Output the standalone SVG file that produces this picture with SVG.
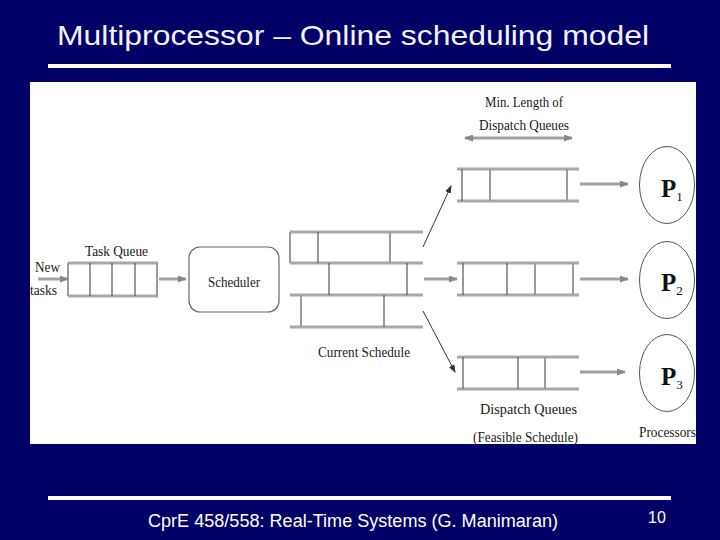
<svg xmlns="http://www.w3.org/2000/svg" width="720" height="540" viewBox="0 0 720 540">
<defs>
<style>
.lbl{font-family:"Liberation Serif","Times New Roman",serif;font-size:15px;fill:#1a1a1a}
.pl{font-family:"Liberation Serif","Times New Roman",serif;font-weight:bold;font-size:25px;fill:#111}
.ps{font-weight:normal;font-size:13px}
.hl{stroke:#a8a8a8;stroke-width:3;fill:none}
.vg{stroke:#9a9a9a;stroke-width:2;fill:none}
.vd{stroke:#555;stroke-width:1.2;fill:none}
.ga{stroke:#a0a0a0;stroke-width:3;fill:none;marker-end:url(#gh)}
.da{stroke:#333;stroke-width:1;fill:none;marker-end:url(#dh)}
.proc{fill:#fff;stroke:#555;stroke-width:1}
</style>
<marker id="gh" markerUnits="userSpaceOnUse" markerWidth="9" markerHeight="7" refX="8" refY="3.5" orient="auto"><path d="M0,0 L9,3.5 L0,7 z" fill="#888"/></marker>
<marker id="gt" markerUnits="userSpaceOnUse" markerWidth="9" markerHeight="7" refX="1" refY="3.5" orient="auto"><path d="M9,0 L0,3.5 L9,7 z" fill="#888"/></marker>
<marker id="dh" markerUnits="userSpaceOnUse" markerWidth="8" markerHeight="6" refX="7" refY="3" orient="auto"><path d="M0,0 L8,3 L0,6 z" fill="#333"/></marker>
<clipPath id="panel"><rect x="30" y="82" width="666" height="362"/></clipPath>
</defs>
<rect width="720" height="540" fill="#020066"/>
<g id="title">
<text x="57" y="45" font-family="Liberation Sans, Arial, sans-serif" font-size="28" fill="#f2f2fa" textLength="592" lengthAdjust="spacingAndGlyphs">Multiprocessor – Online scheduling model</text>
<rect x="48" y="64" width="623" height="4" fill="#fffbe6"/>
</g>
<rect x="30" y="82" width="666" height="362" fill="#ffffff"/>
<g clip-path="url(#panel)">
<g id="new-tasks">
<text class="lbl" x="35" y="272" textLength="25" lengthAdjust="spacingAndGlyphs">New</text>
<text class="lbl" x="30" y="295" textLength="27" lengthAdjust="spacingAndGlyphs">tasks</text>
</g>
<g id="task-queue">
<text class="lbl" x="85" y="256" textLength="63" lengthAdjust="spacingAndGlyphs">Task Queue</text>
<line class="hl" x1="68" y1="263" x2="158" y2="263"/>
<line class="hl" x1="68" y1="296" x2="158" y2="296"/>
<line class="vg" x1="68" y1="263" x2="68" y2="296" stroke-width="1.5"/>
<line class="vd" x1="90" y1="263" x2="90" y2="296" stroke-width="2"/>
<line class="vd" x1="112" y1="263" x2="112" y2="296" stroke-width="2"/>
<line class="vd" x1="135" y1="263" x2="135" y2="296" stroke-width="2"/>
<line class="vg" x1="157" y1="263" x2="157" y2="296" stroke-width="1.5"/>
</g>
<g id="scheduler">
<rect x="189" y="247" width="90" height="65" rx="11" fill="#fff" stroke="#666" stroke-width="1.2"/>
<text class="lbl" x="208" y="287" textLength="52" lengthAdjust="spacingAndGlyphs">Scheduler</text>
</g>
<g id="current-schedule">
<line class="hl" x1="290" y1="232" x2="423" y2="232"/>
<line class="hl" x1="290" y1="263" x2="423" y2="263"/>
<line class="hl" x1="290" y1="295" x2="423" y2="295"/>
<line class="hl" x1="290" y1="327" x2="423" y2="327"/>
<line class="vg" x1="290" y1="232" x2="290" y2="263" stroke-width="1.2"/>
<line class="vd" x1="318" y1="232" x2="318" y2="263" stroke-width="2"/>
<line class="vg" x1="390" y1="232" x2="390" y2="263"/>
<line class="vd" x1="329" y1="263" x2="329" y2="295" stroke-width="2"/>
<line class="vd" x1="407" y1="263" x2="407" y2="295"/>
<line class="vg" x1="301" y1="295" x2="301" y2="327" stroke-width="3"/>
<line class="vd" x1="384" y1="295" x2="384" y2="327"/>
<text class="lbl" x="318" y="357" textLength="92" lengthAdjust="spacingAndGlyphs">Current Schedule</text>
</g>
<g id="min-length">
<text class="lbl" x="485" y="107" textLength="78" lengthAdjust="spacingAndGlyphs">Min. Length of</text>
<text class="lbl" x="479" y="130" textLength="90" lengthAdjust="spacingAndGlyphs">Dispatch Queues</text>
<line x1="465" y1="138" x2="572" y2="138" stroke="#a0a0a0" stroke-width="3" marker-start="url(#gt)" marker-end="url(#gh)"/>
</g>
<g id="dispatch-queue-1">
<line class="hl" x1="457" y1="169" x2="579" y2="169"/>
<line class="hl" x1="457" y1="201" x2="579" y2="201"/>
<line class="vd" x1="462" y1="169" x2="462" y2="201"/>
<line class="vg" x1="490" y1="169" x2="490" y2="201"/>
<line class="vg" x1="567" y1="169" x2="567" y2="201" stroke-width="2.5"/>
</g>
<g id="dispatch-queue-2">
<line class="hl" x1="457" y1="263" x2="579" y2="263"/>
<line class="hl" x1="457" y1="295" x2="579" y2="295"/>
<line class="vd" x1="463" y1="263" x2="463" y2="295"/>
<line class="vd" x1="507" y1="263" x2="507" y2="295"/>
<line class="vg" x1="535" y1="263" x2="535" y2="295"/>
<line class="vg" x1="573" y1="263" x2="573" y2="295"/>
</g>
<g id="dispatch-queue-3">
<line class="hl" x1="457" y1="357" x2="579" y2="357"/>
<line class="hl" x1="457" y1="389" x2="579" y2="389"/>
<line class="vd" x1="463" y1="357" x2="463" y2="389"/>
<line class="vd" x1="518" y1="357" x2="518" y2="389"/>
<line class="vg" x1="545" y1="357" x2="545" y2="389" stroke-width="3"/>
<text class="lbl" x="480" y="414" textLength="97" lengthAdjust="spacingAndGlyphs">Dispatch Queues</text>
<text class="lbl" x="473" y="442" textLength="105" lengthAdjust="spacingAndGlyphs">(Feasible Schedule)</text>
</g>
<g id="p1">
<ellipse class="proc" cx="667" cy="185" rx="27.5" ry="38.5"/>
<text class="pl" x="661" y="197">P<tspan class="ps" dy="4">1</tspan></text>
</g>
<g id="p2">
<ellipse class="proc" cx="667" cy="280" rx="27.5" ry="38.5"/>
<text class="pl" x="661" y="291">P<tspan class="ps" dy="4">2</tspan></text>
</g>
<g id="p3">
<ellipse class="proc" cx="667" cy="373" rx="27.5" ry="38.5"/>
<text class="pl" x="661" y="385">P<tspan class="ps" dy="4">3</tspan></text>
</g>
<g id="processors-label">
<text class="lbl" x="639" y="437" textLength="57" lengthAdjust="spacingAndGlyphs">Processors</text>
</g>
<g id="connectors">
<line class="ga" x1="38" y1="279" x2="68" y2="279"/>
<line class="ga" x1="159" y1="279" x2="186" y2="279"/>
<line class="ga" x1="424" y1="279" x2="457" y2="279"/>
<line class="da" x1="423" y1="247" x2="451" y2="186"/>
<line class="da" x1="423" y1="311" x2="455" y2="372"/>
<line class="ga" x1="580" y1="184" x2="628" y2="184"/>
<line class="ga" x1="580" y1="279" x2="628" y2="279"/>
<line class="ga" x1="580" y1="372" x2="625" y2="372"/>
</g>
</g>
<g id="footer">
<rect x="48" y="496" width="623" height="4" fill="#ffffff"/>
<text x="148" y="527" font-family="Liberation Sans, Arial, sans-serif" font-size="18" fill="#ffffff" textLength="410" lengthAdjust="spacingAndGlyphs">CprE 458/558: Real-Time Systems (G. Manimaran)</text>
<text x="648" y="523" font-family="Liberation Sans, Arial, sans-serif" font-size="16" fill="#ffffff">10</text>
</g>
</svg>
